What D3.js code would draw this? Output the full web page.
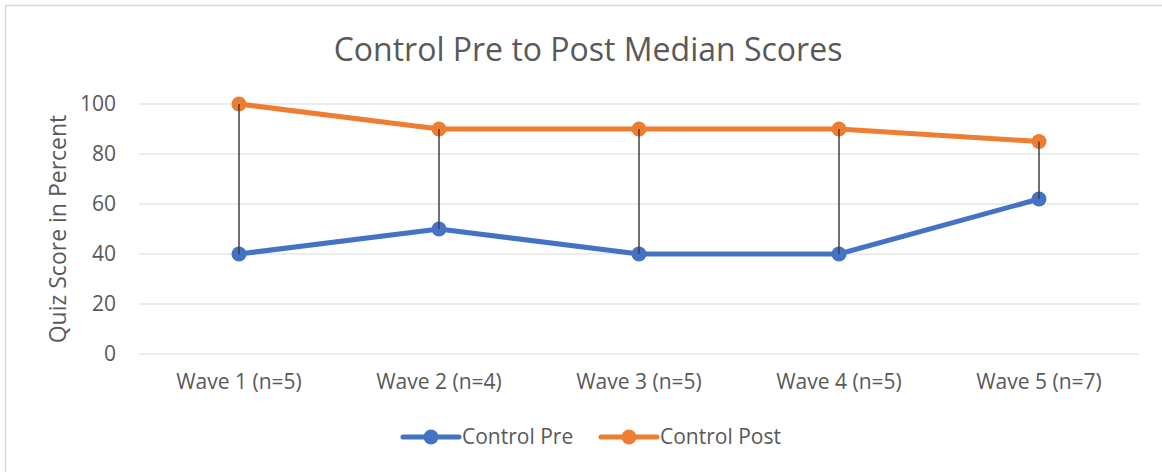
<!DOCTYPE html>
<html>
<head>
<meta charset="utf-8">
<script src="https://cdn.jsdelivr.net/npm/d3@7"></script>
<style>
  body { margin: 0; background: #fff; }
  text { font-family: "Open Sans", "Liberation Sans", sans-serif; fill: #595959; }
</style>
</head>
<body>
<svg id="chart"></svg>
<script>
var width = 1162, height = 472

var waves = ["Wave 1 (n=5)", "Wave 2 (n=4)", "Wave 3 (n=5)", "Wave 4 (n=5)", "Wave 5 (n=7)"]
var preScores = [40, 50, 40, 40, 62]
var postScores = [100, 90, 90, 90, 85]
var yTicks = [0, 20, 40, 60, 80, 100]
var seriesNames = ["Control Pre", "Control Post"]
var seriesColors = ["#4472c4", "#ed7d31"]

var svg = d3.select("#chart")
    .attr("width", width)
    .attr("height", height)

// chart border
svg.append("path")
    .attr("d", "M5.5," + height + "V5.5H" + width)
    .attr("fill", "none")
    .attr("stroke", "#d9d9d9")
    .attr("stroke-width", 1.5)

var x = d3.scaleBand()
    .domain(waves)
    .range([139, 1139])

var y = d3.scaleLinear()
    .domain([0, 100])
    .range([354, 104])

// gridlines
svg.append("g")
    .selectAll("line")
    .data(yTicks)
    .enter()
    .append("line")
        .attr("x1", 139)
        .attr("x2", 1139)
        .attr("y1", d => y(d))
        .attr("y2", d => y(d))
        .attr("stroke", "#d9d9d9")
        .attr("stroke-width", 1)

var yAxis = svg.append("g")
    .attr("transform", "translate(139,0)")
    .call(d3.axisLeft(y).tickValues(yTicks).tickSize(0).tickPadding(23))
yAxis.select(".domain").remove()
yAxis.selectAll("text")
    .style("font-size", "21px")
    .attr("fill", "#595959")

var xAxis = svg.append("g")
    .attr("transform", "translate(0,354)")
    .call(d3.axisBottom(x).tickSize(0).tickPadding(20))
xAxis.select(".domain").remove()
xAxis.selectAll("text")
    .style("font-size", "21px")
    .attr("fill", "#595959")

var cx = d => x(d) + x.bandwidth() / 2

var line = d3.line()
    .x((d, i) => cx(waves[i]))
    .y(d => y(d))

;[preScores, postScores].forEach(function(vals, s) {
    var g = svg.append("g")
    g.append("path")
        .datum(vals)
        .attr("d", line)
        .attr("fill", "none")
        .attr("stroke", seriesColors[s])
        .attr("stroke-width", 5)
        .attr("stroke-linecap", "round")
    g.selectAll("circle")
        .data(vals)
        .enter()
        .append("circle")
            .attr("cx", (d, i) => cx(waves[i]))
            .attr("cy", d => y(d))
            .attr("r", 7.5)
            .attr("fill", seriesColors[s])
})

// high-low lines, drawn over the markers
svg.append("g")
    .selectAll("line")
    .data(waves)
    .enter()
    .append("line")
        .attr("x1", cx)
        .attr("x2", cx)
        .attr("y1", (d, i) => y(preScores[i]))
        .attr("y2", (d, i) => y(postScores[i]))
        .attr("stroke", "#404040")
        .attr("stroke-width", 1.5)

// title
svg.append("text")
    .attr("x", 588)
    .attr("y", 61)
    .attr("text-anchor", "middle")
    .style("font-size", "32px")
    .text("Control Pre to Post Median Scores")

// y axis label
svg.append("text")
    .attr("transform", "translate(66,229) rotate(-90)")
    .attr("text-anchor", "middle")
    .style("font-size", "23px")
    .text("Quiz Score in Percent")

// legend
var legendX = [403, 601]
var legend = svg.append("g")
    .selectAll("g")
    .data(seriesNames)
    .enter()
    .append("g")
        .attr("transform", (d, i) => "translate(" + legendX[i] + ",437)")
legend.append("line")
    .attr("x1", 0)
    .attr("x2", 56)
    .attr("stroke", (d, i) => seriesColors[i])
    .attr("stroke-width", 5)
    .attr("stroke-linecap", "round")
legend.append("circle")
    .attr("cx", 28)
    .attr("r", 7.5)
    .attr("fill", (d, i) => seriesColors[i])
legend.append("text")
    .attr("x", 59)
    .attr("dy", "0.35em")
    .style("font-size", "21px")
    .text(d => d)
</script>
</body>
</html>
